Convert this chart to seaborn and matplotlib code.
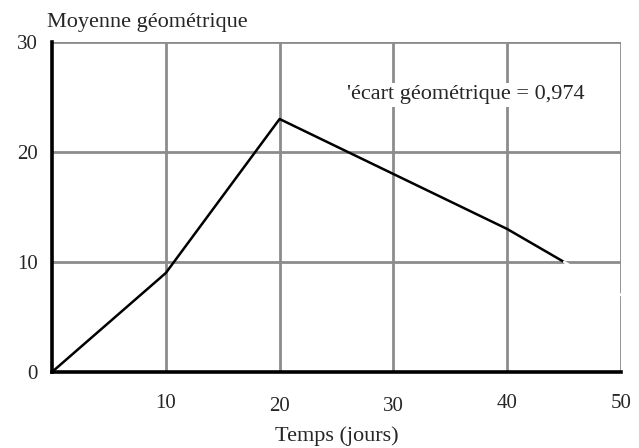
import pandas as pd
import seaborn as sns
import matplotlib.pyplot as plt
import matplotlib.transforms as mtransforms

# ---- donnees ----
jours = [0, 10, 20, 30, 40, 45]
moyenne_geo = [0, 9, 23, 18, 13, 10]

# segment blanc (prolongement invisible, visible seulement sur la grille)
jours_fin = [45, 50]
moyenne_fin = [10, 7]

x_ticks = [10, 20, 30, 40, 50]
y_ticks = [0, 10, 20, 30]
annotation = "'écart géométrique = 0,974"

sns.set_style("white")
plt.rcParams['font.family'] = ['Liberation Serif', 'DejaVu Serif']

fig = plt.figure(figsize=(6.39, 4.48), dpi=100)
ax = fig.add_axes([52 / 639, 1 - 372 / 448, (621 - 52) / 639, (372 - 42) / 448])

df = pd.DataFrame({"jours": jours, "moyenne": moyenne_geo})
df_fin = pd.DataFrame({"jours": jours_fin, "moyenne": moyenne_fin})

ax.set_xlim(0, 50)
ax.set_ylim(0, 30)

# grille grise
for x in x_ticks:
    ax.axvline(x, color="#8c8c8c", lw=2.0, zorder=1)
for y in y_ticks[1:]:
    ax.axhline(y, color="#8c8c8c", lw=2.0, zorder=1)

sns.lineplot(data=df, x="jours", y="moyenne", color="black", lw=1.8,
             ax=ax, zorder=3, clip_on=False)
sns.lineplot(data=df_fin, x="jours", y="moyenne", color="white", lw=1.8,
             ax=ax, zorder=3, clip_on=False)

# le texte a un fond blanc qui cache la grille
ax.text(25.9, 25.2, annotation, fontsize=16, ha="left", va="center",
        zorder=5, bbox=dict(facecolor="white", edgecolor="none", pad=2))
ax.text(-0.4, 30.9, "Moyenne géométrique", fontsize=16, ha="left",
        va="bottom")

ax.set_xticks(x_ticks)
ax.set_xticklabels([str(v) for v in x_ticks], fontsize=15)
ax.set_yticks(y_ticks)
ax.set_yticklabels([str(v) for v in y_ticks], fontsize=15)
ax.tick_params(axis="x", direction="inout", length=7, width=2, pad=12,
               color="black")
ax.tick_params(axis="y", direction="out", length=4, width=2, pad=6,
               color="black")

# les etiquettes 20 et 30 sont un peu plus basses
for lab in ax.get_xticklabels():
    if lab.get_text() in ("20", "30"):
        lab.set_transform(lab.get_transform() +
                          mtransforms.ScaledTranslation(0, -3 / 100,
                                                        fig.dpi_scale_trans))

ax.set_xlabel("Temps (jours)", fontsize=16, labelpad=8)
ax.set_ylabel("")

for side in ["top", "right"]:
    ax.spines[side].set_visible(False)
ax.spines["left"].set_linewidth(2.6)
ax.spines["bottom"].set_linewidth(2.6)
ax.spines["left"].set_color("black")
ax.spines["bottom"].set_color("black")
ax.spines["left"].set_zorder(4)
ax.spines["bottom"].set_zorder(4)

fig.savefig("out.png", dpi=100)
